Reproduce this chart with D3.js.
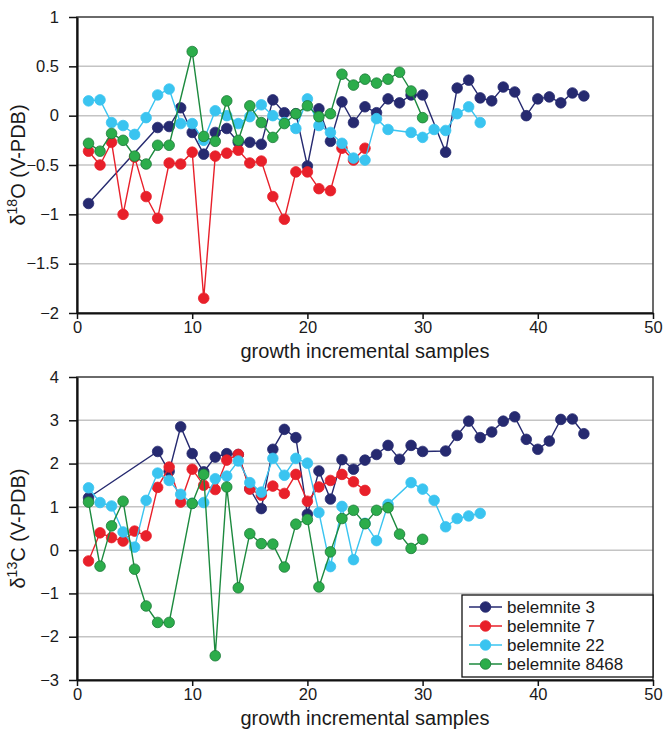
<!DOCTYPE html>
<html>
<head>
<meta charset="utf-8">
<script src="https://cdn.jsdelivr.net/npm/d3@7"></script>
<style>
  body { margin: 0; background: #fff; }
  svg { display: block; font-family: 'Liberation Sans', Arial, Helvetica, sans-serif; }
  .tick text { font-size: 16.5px; fill: #1a1a1a; }
  .axis-title { font-size: 20px; fill: #1a1a1a; }
  .legend text { font-size: 17px; fill: #1a1a1a; }
</style>
</head>
<body>
<div id="wrapper"></div>
<script>
// sample numbers on the x axis
const samples = d3.range(1, 45)
const xTicks = [0, 10, 20, 30, 40, 50]
const d18OTicks = [-2, -1.5, -1, -0.5, 0, 0.5, 1]
const d13CTicks = [-3, -2, -1, 0, 1, 2, 3, 4]
const seriesNames = ['belemnite 3', 'belemnite 7', 'belemnite 22', 'belemnite 8468']

// d18O, one value per sample starting at 1 (null = no sample)
const d18O_b3 = [-0.89, null, null, null, null, null, -0.12, -0.11, 0.08, -0.17,
  -0.39, -0.17, -0.13, -0.27, -0.27, -0.29, 0.16, 0.03, 0.02, -0.51,
  0.07, -0.26, 0.14, -0.07, 0.09, 0.03, 0.17, 0.13, 0.21, 0.21,
  null, -0.37, 0.28, 0.36, 0.18, 0.15, 0.29, 0.24, 0.00, 0.17,
  0.19, 0.13, 0.23, 0.20]
const d18O_b7 = [-0.36, -0.50, -0.27, -1.00, -0.42, -0.82, -1.04, -0.48, -0.49, -0.37,
  -1.85, -0.41, -0.38, -0.35, -0.48, -0.46, -0.82, -1.05, -0.57, -0.57,
  -0.74, -0.76, -0.33, -0.45, -0.33]
const d18O_b22 = [0.15, 0.16, -0.07, -0.10, -0.19, -0.02, 0.21, 0.27, -0.08, -0.08,
  -0.25, 0.05, 0.00, -0.08, -0.01, 0.11, 0.00, -0.07, -0.13, 0.17,
  -0.10, -0.17, -0.28, -0.43, -0.45, -0.03, -0.14, null, -0.17, -0.22,
  -0.14, -0.15, 0.02, 0.09, -0.07]
const d18O_b8468 = [-0.28, -0.36, -0.18, -0.25, -0.41, -0.49, -0.30, -0.30, null, 0.65,
  -0.21, -0.26, 0.15, -0.25, 0.10, -0.07, -0.22, -0.08, 0.02, 0.10,
  -0.01, 0.02, 0.42, 0.31, 0.37, 0.33, 0.37, 0.44, 0.25, -0.02]

// d13C
const d13C_b3 = [1.21, null, null, null, null, null, 2.28, 1.82, 2.85, 2.23,
  1.81, 2.15, 2.23, 2.21, 1.42, 0.96, 2.33, 2.79, 2.60, 0.83,
  1.83, 1.18, 2.09, 1.87, 2.08, 2.21, 2.42, 2.10, 2.42, 2.28,
  null, 2.29, 2.65, 2.98, 2.60, 2.73, 2.98, 3.08, 2.56, 2.33,
  2.52, 3.02, 3.03, 2.69]
const d13C_b7 = [-0.25, 0.40, 0.29, 0.21, 0.44, 0.33, 1.45, 1.92, 1.11, 1.87,
  1.50, 1.40, 2.08, 2.21, 1.41, 1.27, 1.48, 1.31, 1.75, 1.13,
  1.46, 1.61, 1.75, 1.58, 1.38]
const d13C_b22 = [1.44, 1.10, 1.02, 0.42, 0.07, 1.15, 1.78, 1.61, 1.29, 1.08,
  1.10, 1.65, 1.71, 2.06, 1.56, 1.34, 2.12, 1.73, 2.12, 2.01,
  0.87, -0.38, 1.01, -0.22, 0.62, 0.22, 1.06, null, 1.56, 1.41,
  1.15, 0.54, 0.73, 0.79, 0.85]
const d13C_b8468 = [1.11, -0.37, 0.56, 1.13, -0.44, -1.29, -1.67, -1.67, null, 1.08,
  1.75, -2.44, 1.46, -0.87, 0.38, 0.15, 0.14, -0.39, 0.60, 0.71,
  -0.85, -0.04, 0.73, 0.92, 0.61, 0.92, 0.98, 0.37, 0.04, 0.25]

const styles = [
  { line: '#262a70', fill: '#262a70', stroke: '#262a70' },
  { line: '#e8202a', fill: '#e8202a', stroke: '#e8202a' },
  { line: '#3ac4f0', fill: '#3ac4f0', stroke: '#3ac4f0' },
  { line: '#1c8a3e', fill: '#2cad4b', stroke: '#1c7a38' }
]

function toPoints(values) {
  return values
    .map((v, i) => ({ x: samples[i], y: v }))
    .filter(d => d.y !== null)
}

function drawChart() {
  const dimensions = {
    width: 663,
    height: 729,
    margin: { left: 77, right: 10 }
  }
  dimensions.boundedWidth = dimensions.width - dimensions.margin.left - dimensions.margin.right

  const wrapper = d3.select('#wrapper')
    .append('svg')
      .attr('width', dimensions.width)
      .attr('height', dimensions.height)

  const xScale = d3.scaleLinear()
    .domain([0, 50])
    .range([0, dimensions.boundedWidth])

  const panels = [
    { top: 17, height: 296, ticks: d18OTicks, iso: 'O',
      series: [d18O_b3, d18O_b7, d18O_b22, d18O_b8468] },
    { top: 377, height: 303, ticks: d13CTicks, iso: 'C',
      series: [d13C_b3, d13C_b7, d13C_b22, d13C_b8468] }
  ]

  panels.forEach((p, pi) => {
    const bounds = wrapper.append('g')
      .attr('transform', `translate(${dimensions.margin.left}, ${p.top})`)

    const yScale = d3.scaleLinear()
      .domain(d3.extent(p.ticks))
      .range([p.height, 0])

    // gridlines
    bounds.append('g')
      .selectAll('line')
      .data(p.ticks.slice(1, -1))
      .join('line')
        .attr('x1', 0)
        .attr('x2', dimensions.boundedWidth)
        .attr('y1', d => yScale(d))
        .attr('y2', d => yScale(d))
        .attr('stroke', '#c4c4c4')
        .attr('stroke-width', 1.5)

    // frame (top and right)
    bounds.append('rect')
      .attr('width', dimensions.boundedWidth)
      .attr('height', p.height)
      .attr('fill', 'none')
      .attr('stroke', '#3a3a3a')
      .attr('stroke-width', 1.5)

    // series
    const lineGenerator = d3.line()
      .x(d => xScale(d.x))
      .y(d => yScale(d.y))

    p.series.forEach((values, si) => {
      const pts = toPoints(values)
      const st = styles[si]
      bounds.append('path')
        .datum(pts)
        .attr('d', lineGenerator)
        .attr('fill', 'none')
        .attr('stroke', st.line)
        .attr('stroke-width', 1.4)
      bounds.append('g')
        .selectAll('circle')
        .data(pts)
        .join('circle')
          .attr('cx', d => xScale(d.x))
          .attr('cy', d => yScale(d.y))
          .attr('r', 5.3)
          .attr('fill', st.fill)
          .attr('stroke', st.stroke)
          .attr('stroke-width', 0.8)
    })

    // axes
    const xAxis = bounds.append('g')
      .attr('transform', `translate(0, ${p.height})`)
      .call(d3.axisBottom(xScale).tickValues(xTicks).tickSize(6).tickSizeOuter(0).tickPadding(2))
    const yAxis = bounds.append('g')
      .call(d3.axisLeft(yScale).tickValues(p.ticks).tickSize(8).tickSizeOuter(0).tickPadding(10)
        .tickFormat(d3.format('')))
    ;[xAxis, yAxis].forEach(a => {
      a.select('.domain').attr('stroke', '#111').attr('stroke-width', 2.2)
      a.selectAll('.tick line').attr('stroke', '#111').attr('stroke-width', 1.5)
    })

    bounds.append('text')
      .attr('class', 'axis-title')
      .attr('x', dimensions.boundedWidth / 2)
      .attr('y', p.height + 45)
      .attr('text-anchor', 'middle')
      .text('growth incremental samples')

    const yTitle = bounds.append('text')
      .attr('class', 'axis-title')
      .attr('transform', 'rotate(-90)')
      .attr('x', -p.height / 2)
      .attr('y', -dimensions.margin.left + 25)
      .attr('text-anchor', 'middle')
    yTitle.append('tspan').text('δ')
    yTitle.append('tspan').attr('dy', -8).style('font-size', '14px').text(pi === 0 ? '18' : '13')
    yTitle.append('tspan').attr('dy', 8).text(`${p.iso} (V-PDB)`)

    // legend in the lower panel
    if (pi === 1) {
      const legend = bounds.append('g')
        .attr('class', 'legend')
        .attr('transform', `translate(${462 - dimensions.margin.left}, ${595 - p.top})`)
      legend.append('rect')
        .attr('width', 191)
        .attr('height', 82)
        .attr('fill', '#fff')
        .attr('stroke', '#111')
        .attr('stroke-width', 1.3)
      const items = legend.selectAll('g')
        .data(seriesNames)
        .join('g')
          .attr('transform', (d, i) => `translate(0, ${12 + i * 19})`)
      items.append('line')
        .attr('x1', 7).attr('x2', 40)
        .attr('stroke', (d, i) => styles[i].line)
        .attr('stroke-width', 1.4)
      items.append('circle')
        .attr('cx', 23.5)
        .attr('r', 5.3)
        .attr('fill', (d, i) => styles[i].fill)
        .attr('stroke', (d, i) => styles[i].stroke)
        .attr('stroke-width', 0.8)
      items.append('text')
        .attr('x', 45)
        .attr('dy', '0.35em')
        .text(d => d)
    }
  })
}

drawChart()
</script>
</body>
</html>
